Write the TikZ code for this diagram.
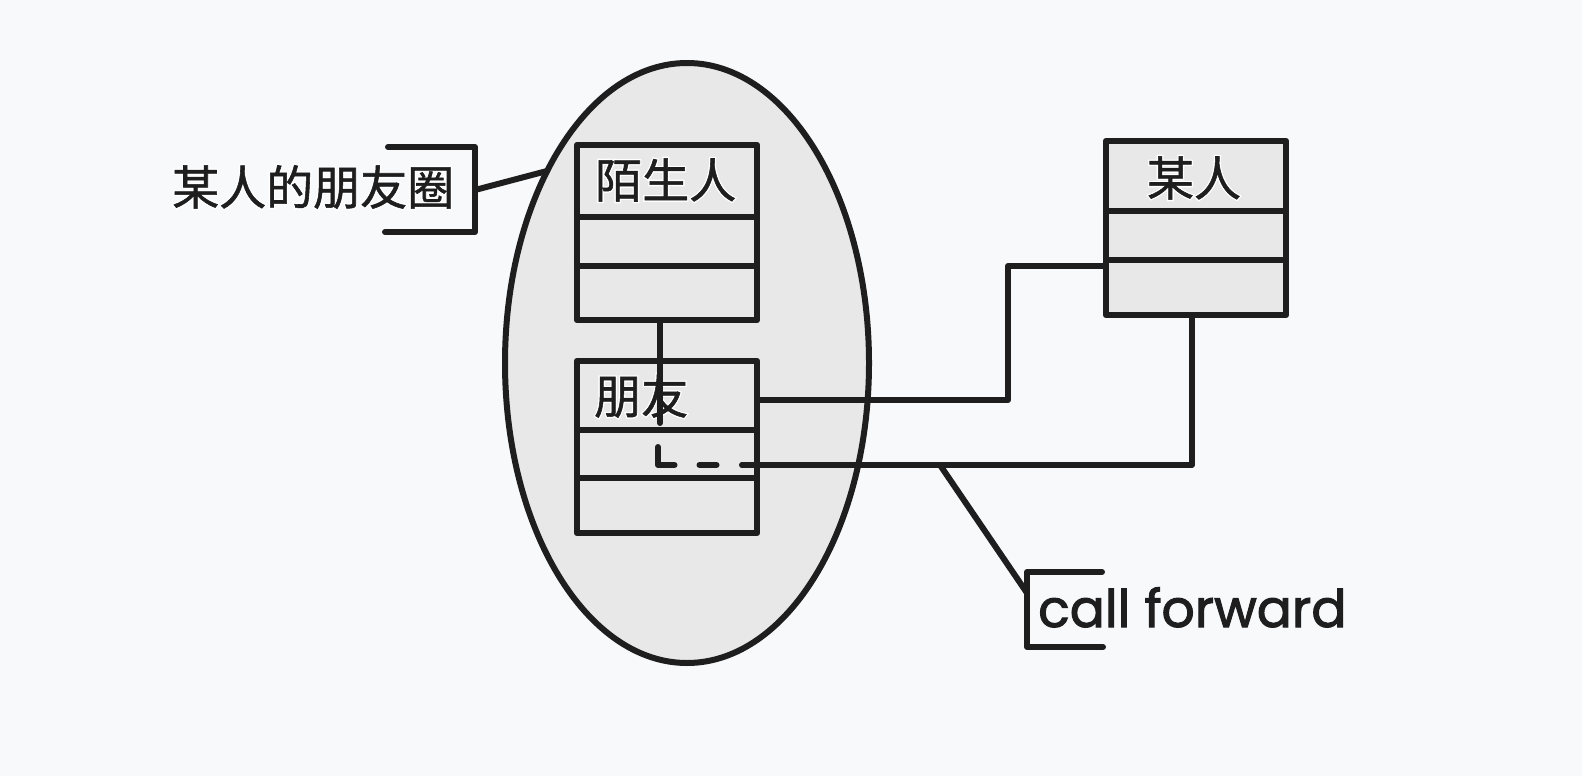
\documentclass[tikz,border=0pt]{standalone}
\usepackage{fontspec}
\newfontfamily\cjk[FakeBold=1.2]{Noto Sans CJK SC}
\newfontfamily\cjkhalo[FakeBold=7]{Noto Sans CJK SC}
\newfontfamily\hand[FakeBold=2]{Poppins}
\definecolor{bg}{HTML}{F8F9FB}
\definecolor{ink}{HTML}{1E1E1E}
\definecolor{fillg}{HTML}{E8E8E8}
\newcommand\halotext[1]{\leavevmode\rlap{\cjkhalo\color{white}#1}{\cjk\color{ink}#1}}
\begin{document}
\begin{tikzpicture}[x=1pt,y=-1pt,
  conn/.style={draw=ink, line width=6pt, line cap=round, line join=round},
  divider/.style={draw=ink, line width=6pt, line cap=butt},
  box/.style={draw=ink, fill=fillg, rectangle, minimum width=180pt, inner sep=0pt, line width=6.5pt, line join=round},
  lbl/.style={font=\fontsize{47}{47}\selectfont, inner sep=0pt, text=ink},
  handlbl/.style={font=\hand\fontsize{52}{52}\selectfont, inner sep=0pt, text=ink}]
\fill[bg] (0,0) rectangle (1582,776);
\useasboundingbox (0,0) rectangle (1582,776);
% ellipse (circle of friends)
\draw[conn, fill=fillg] (687,363) ellipse [x radius=182, y radius=300];
% boxes
\node[box, minimum height=175pt] (stranger) at (667,232.5) {};
\node[box, minimum height=172pt] (friend) at (667,447) {};
\node[box, minimum height=174pt] (someone) at (1196,228) {};
% dividers
\draw[divider] (stranger.west |- 0,217) -- (stranger.east |- 0,217);
\draw[divider] (stranger.west |- 0,266) -- (stranger.east |- 0,266);
\draw[divider] (friend.west |- 0,430) -- (friend.east |- 0,430);
\draw[divider] (friend.west |- 0,478) -- (friend.east |- 0,478);
\draw[divider] (someone.west |- 0,211) -- (someone.east |- 0,211);
\draw[divider] (someone.west |- 0,260) -- (someone.east |- 0,260);
% box titles
\node[lbl, anchor=west] (tstranger) at (595,180) {\halotext{陌生人}};
\node[lbl, anchor=west] (tfriend) at (594,396) {\halotext{朋友}};
\node[lbl] (tsomeone) at (1194,178) {\halotext{某人}};
% left note
\node[lbl, anchor=west] (note1) at (172,187) {\halotext{某人的朋友圈}};
\draw[conn] (388,147) -- (475,147) -- (475,232) -- (385,232);
\coordinate (n1a) at (475,190);
\coordinate (n1b) at (547,171);
\draw[conn] (n1a) -- (n1b);
% stranger - friend
\coordinate (sfEnd) at (660,423);
\draw[conn] (stranger.south -| sfEnd) -- (sfEnd);
% friend - someone
\coordinate (fsA) at (1008,400);
\draw[conn] (friend.east |- fsA) -| (1008,266) -- (someone.west |- 0,266);
% dashed L and solid link to someone
\coordinate (dA) at (658,447);
\coordinate (dC) at (744,465);
\draw[conn, dash pattern=on 34.5pt off 25pt on 17pt off 26pt] (dA) |- (dC);
\coordinate (dB) at (742,465);
\coordinate (sB) at (1192,315);
\draw[conn] (dB) -| (someone.south -| sB);
% call forward note
\coordinate (cfA) at (940,465);
\coordinate (cfB) at (1027,593);
\draw[conn] (cfA) -- (cfB);
\draw[conn] (1102,572) -- (1027,572) -- (1027,647) -- (1103,647);
\node[handlbl, anchor=base west] (note2) at (1038,627) {call forward};
\end{tikzpicture}
\end{document}
